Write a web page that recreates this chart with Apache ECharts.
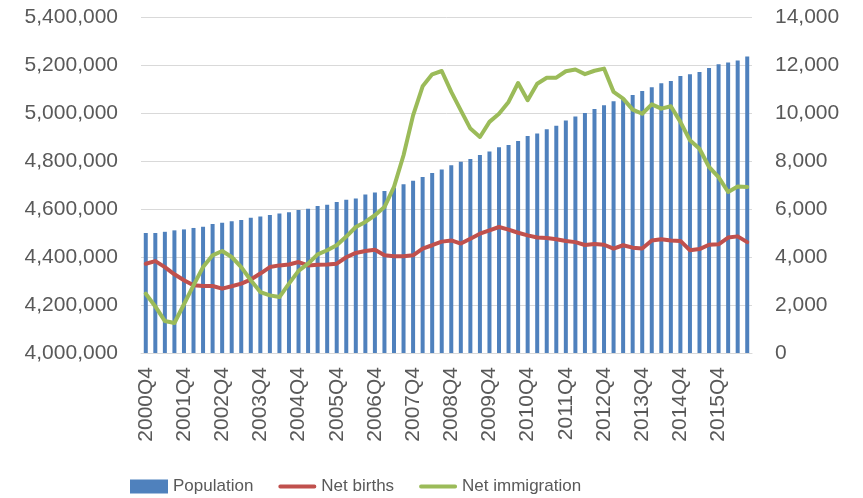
<!DOCTYPE html>
<html>
<head>
<meta charset="utf-8">
<script src="https://cdn.jsdelivr.net/npm/echarts@6/dist/echarts.min.js"></script>
<style>
  html, body { margin: 0; padding: 0; background: #ffffff; }
  #chart { width: 863px; height: 498px; }
</style>
</head>
<body>
<div id="chart"></div>
<script>
// Quarterly categories, 2000Q4 to 2016Q3
const quarters = [
  '2000Q4',
  '2001Q1','2001Q2','2001Q3','2001Q4',
  '2002Q1','2002Q2','2002Q3','2002Q4',
  '2003Q1','2003Q2','2003Q3','2003Q4',
  '2004Q1','2004Q2','2004Q3','2004Q4',
  '2005Q1','2005Q2','2005Q3','2005Q4',
  '2006Q1','2006Q2','2006Q3','2006Q4',
  '2007Q1','2007Q2','2007Q3','2007Q4',
  '2008Q1','2008Q2','2008Q3','2008Q4',
  '2009Q1','2009Q2','2009Q3','2009Q4',
  '2010Q1','2010Q2','2010Q3','2010Q4',
  '2011Q1','2011Q2','2011Q3','2011Q4',
  '2012Q1','2012Q2','2012Q3','2012Q4',
  '2013Q1','2013Q2','2013Q3','2013Q4',
  '2014Q1','2014Q2','2014Q3','2014Q4',
  '2015Q1','2015Q2','2015Q3','2015Q4',
  '2016Q1','2016Q2','2016Q3'
];

// Population at end of quarter (left axis)
const population = [
  4500000, 4500000, 4505000, 4511000, 4515000, 4521000, 4526000, 4537000,
  4543000, 4549000, 4554000, 4564000, 4569000, 4575000, 4581000, 4586000,
  4596000, 4601000, 4612000, 4618000, 4629000, 4639000, 4644000, 4660000,
  4669000, 4675000, 4687000, 4703000, 4718000, 4733000, 4750000, 4765000,
  4782000, 4797000, 4808000, 4825000, 4840000, 4857000, 4867000, 4883000,
  4904000, 4915000, 4932000, 4947000, 4969000, 4985000, 5000000, 5017000,
  5032000, 5049000, 5062000, 5075000, 5092000, 5107000, 5124000, 5133000,
  5154000, 5161000, 5171000, 5188000, 5203000, 5210000, 5219000, 5235000
];

// Net births per quarter (right axis)
const netBirths = [
  3720, 3830, 3580, 3280, 3030, 2820, 2790, 2790, 2680, 2780, 2890, 3060,
  3310, 3580, 3650, 3690, 3790, 3650, 3680, 3690, 3720, 3990, 4170, 4250,
  4300, 4070, 4030, 4030, 4070, 4350, 4490, 4640, 4690, 4560, 4760, 4970,
  5110, 5250, 5140, 5010, 4900, 4810, 4790, 4740, 4670, 4620, 4500, 4540,
  4510, 4350, 4490, 4390, 4350, 4690, 4740, 4690, 4670, 4280, 4330, 4510,
  4530, 4810, 4860, 4620
];

// Net immigration per quarter (right axis)
const netImmigration = [
  2470, 1940, 1330, 1250, 2030, 2820, 3580, 4070, 4250, 4000, 3580, 3030,
  2540, 2400, 2330, 2890, 3420, 3720, 4110, 4280, 4490, 4850, 5250, 5460,
  5740, 6080, 6920, 8240, 9900, 11110, 11610, 11750, 10880, 10110, 9350, 9000,
  9630, 9970, 10460, 11250, 10530, 11220, 11470, 11470, 11740, 11810, 11620, 11760,
  11850, 10880, 10600, 10140, 9970, 10360, 10180, 10280, 9630, 8860, 8510, 7750,
  7330, 6710, 6940, 6920
];

const leftTicks = { min: 4000000, max: 5400000, interval: 200000 };
const rightTicks = { min: 0, max: 14000, interval: 2000 };

const FONT = 'Liberation Sans';
const TEXT = '#595959';
const GRID_LINE = '#D9D9D9';
const fmt = v => Number(v).toLocaleString('en-US');

// thin rounded bar used as the legend key for the line series
const LINE_KEY = 'path://M2,0 L38,0 A2,2 0 0 1 38,4 L2,4 A2,2 0 0 1 2,0 Z';

const chart = echarts.init(document.getElementById('chart'), null, { renderer: 'canvas' });

chart.setOption({
  animation: false,
  backgroundColor: '#ffffff',
  textStyle: { fontFamily: FONT },
  grid: { left: 141, right: 111, top: 17, bottom: 145, containLabel: false },
  legend: {
    left: 125,
    top: 473,
    itemWidth: 38,
    itemHeight: 14,
    itemGap: 25,
    symbolKeepAspect: true,
    textStyle: { fontFamily: FONT, fontSize: 17, color: TEXT },
    data: [
      { name: 'Population', icon: 'rect' },
      { name: 'Net births', icon: LINE_KEY, itemStyle: { color: '#C0504D', borderWidth: 0 } },
      { name: 'Net immigration', icon: LINE_KEY, itemStyle: { color: '#9BBB59', borderWidth: 0 } }
    ]
  },
  xAxis: {
    type: 'category',
    data: quarters,
    boundaryGap: true,
    axisLine: { show: true, lineStyle: { color: GRID_LINE, width: 1 } },
    axisTick: { show: false },
    axisLabel: {
      interval: 3,
      rotate: 90,
      margin: 14,
      fontFamily: FONT,
      fontSize: 21,
      color: TEXT
    },
    splitLine: { show: false }
  },
  yAxis: [
    {
      type: 'value',
      position: 'left',
      min: leftTicks.min,
      max: leftTicks.max,
      interval: leftTicks.interval,
      axisLine: { show: false },
      axisTick: { show: false },
      axisLabel: { formatter: fmt, margin: 23, fontFamily: FONT, fontSize: 21, color: TEXT },
      splitLine: { show: true, lineStyle: { color: GRID_LINE, width: 1 } }
    },
    {
      type: 'value',
      position: 'right',
      min: rightTicks.min,
      max: rightTicks.max,
      interval: rightTicks.interval,
      axisLine: { show: false },
      axisTick: { show: false },
      axisLabel: { formatter: fmt, margin: 23, fontFamily: FONT, fontSize: 21, color: TEXT },
      splitLine: { show: false }
    }
  ],
  series: [
    {
      name: 'Population',
      type: 'bar',
      yAxisIndex: 0,
      data: population,
      barWidth: 4,
      itemStyle: { color: '#4F81BD' }
    },
    {
      name: 'Net births',
      type: 'line',
      yAxisIndex: 1,
      data: netBirths,
      symbol: 'none',
      lineStyle: { color: '#C0504D', width: 4, join: 'round', cap: 'round' },
      itemStyle: { color: '#C0504D' }
    },
    {
      name: 'Net immigration',
      type: 'line',
      yAxisIndex: 1,
      data: netImmigration,
      symbol: 'none',
      lineStyle: { color: '#9BBB59', width: 4, join: 'round', cap: 'round' },
      itemStyle: { color: '#9BBB59' }
    }
  ]
});
</script>
</body>
</html>
